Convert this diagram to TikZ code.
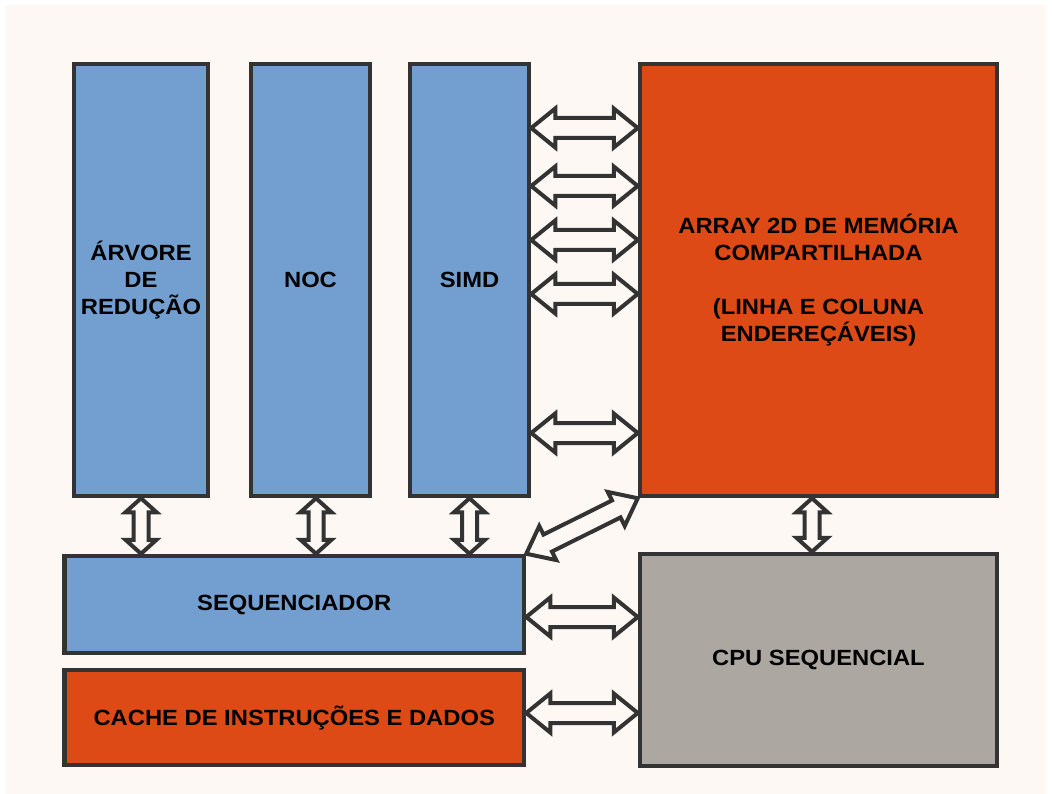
\documentclass[tikz,border=0pt]{standalone}
\usepackage{fontspec}
\setmainfont{Liberation Sans}[FakeStretch=1.08]
\usetikzlibrary{calc}

\definecolor{fundo}{HTML}{FDF8F3}
\definecolor{borda}{HTML}{333333}
\definecolor{azul}{HTML}{729FCF}
\definecolor{laranja}{HTML}{DE4A15}
\definecolor{cinza}{HTML}{ACA7A1}

\tikzset{
  bloco/.style={draw=borda, line width=4.5pt, align=center, inner sep=0pt,
    font=\bfseries\fontsize{22}{26.8}\selectfont},
  % seta dupla vazada: #1 = comprimento da ponta, #2 = meia largura da ponta, #3 = meia largura da haste
  seta/.style n args={3}{draw=borda, line width=4pt, fill=fundo, line join=miter,
    to path={let \p1=(\tikztostart), \p2=(\tikztotarget),
      \n1={atan2(\y2-\y1,\x2-\x1)}, \n2={veclen(\x2-\x1,\y2-\y1)} in
      (\p1) -- ($(\p1)+(\n1:#1pt)+(\n1+90:#2pt)$) -- ($(\p1)+(\n1:#1pt)+(\n1+90:#3pt)$)
      -- ($(\p1)+(\n1:\n2-#1pt)+(\n1+90:#3pt)$) -- ($(\p1)+(\n1:\n2-#1pt)+(\n1+90:#2pt)$)
      -- (\p2)
      -- ($(\p1)+(\n1:\n2-#1pt)+(\n1-90:#2pt)$) -- ($(\p1)+(\n1:\n2-#1pt)+(\n1-90:#3pt)$)
      -- ($(\p1)+(\n1:#1pt)+(\n1-90:#3pt)$) -- ($(\p1)+(\n1:#1pt)+(\n1-90:#2pt)$) -- cycle}},
}

\begin{document}
\begin{tikzpicture}[x=1pt, y=-1pt]
  \useasboundingbox (0,0) rectangle (1052,794);
  \fill[fundo] (6,5) rectangle (1046,794);
  % ── colunas de processamento ──
  \node[bloco, fill=azul, minimum width=134pt, minimum height=432pt] (arvore) at (141,280) {ÁRVORE\\DE\\REDUÇÃO};
  \node[bloco, fill=azul, minimum width=119pt, minimum height=432pt] (noc) at (310.5,280) {NOC};
  \node[bloco, fill=azul, minimum width=119pt, minimum height=432pt] (simd) at (469.5,280) {SIMD};
  % ── memória ──
  \node[bloco, fill=laranja, minimum width=357pt, minimum height=432pt] (array) at (818.5,280)
    {ARRAY 2D DE MEMÓRIA\\COMPARTILHADA\\[26.8pt](LINHA E COLUNA\\ENDEREÇÁVEIS)};
  % ── faixa de baixo ──
  \node[bloco, fill=azul, minimum width=459.5pt, minimum height=97pt] (seq) at (294.25,604.5) {SEQUENCIADOR};
  \node[bloco, fill=laranja, minimum width=459.5pt, minimum height=95pt] (cache) at (294.25,717.5) {CACHE DE INSTRUÇÕES E DADOS};
  \node[bloco, fill=cinza, minimum width=357pt, minimum height=212pt] (cpu) at (818.5,660) {CPU SEQUENCIAL};
  % ── SIMD <-> memória ──
  \foreach \h in {128,186,240,294,433} { \draw[seta={24}{19.5}{10}] (simd.east |- 0,\h) to (array.west |- 0,\h); }
  % ── colunas <-> sequenciador ──
  \draw[seta={14}{15.5}{7.5}] (arvore.south) to (arvore.south |- seq.north);
  \draw[seta={14}{15.5}{7.5}] (noc.south -| 316,0) to (seq.north -| 316,0);
  \draw[seta={14}{15.5}{7.5}] (simd.south) to (simd.south |- seq.north);
  \draw[seta={14}{15.5}{7.5}] (array.south -| 812,0) to (cpu.north -| 812,0);
  \draw[seta={24}{19}{9.5}] (seq.north east) to (array.south west);
  % ── CPU ──
  \draw[seta={24}{19.5}{10}] (seq.east |- 0,617) to (cpu.west |- 0,617);
  \draw[seta={24}{19.5}{10}] (cache.east |- 0,713) to (cpu.west |- 0,713);
\end{tikzpicture}
\end{document}
